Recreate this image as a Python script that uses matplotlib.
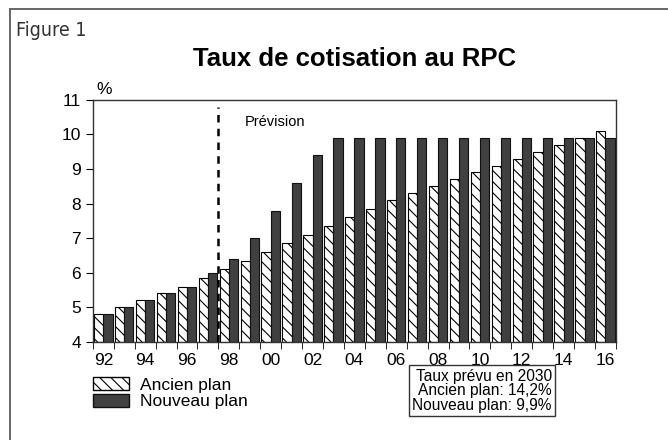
import matplotlib.pyplot as plt
import matplotlib.patches as mpatches
import matplotlib.lines as mlines
import numpy as np

plt.rcParams['font.family'] = ['Liberation Sans', 'DejaVu Sans']
plt.rcParams['hatch.linewidth'] = 0.8

# Années 1992 à 2016
annees = list(range(1992, 2017))
etiquettes = ["92", "94", "96", "98", "00", "02", "04", "06", "08", "10", "12", "14", "16"]

ancien = [4.8, 5.0, 5.2, 5.4, 5.6, 5.85, 6.1, 6.35, 6.6, 6.85, 7.1, 7.35, 7.6,
          7.85, 8.1, 8.3, 8.5, 8.7, 8.9, 9.1, 9.3, 9.5, 9.7, 9.9, 10.1]
nouveau = [4.8, 5.0, 5.2, 5.4, 5.6, 6.0, 6.4, 7.0, 7.8, 8.6, 9.4, 9.9, 9.9,
           9.9, 9.9, 9.9, 9.9, 9.9, 9.9, 9.9, 9.9, 9.9, 9.9, 9.9, 9.9]

fig = plt.figure(figsize=(6.68, 4.40), dpi=100)
ax = fig.add_axes([0.139, 0.223, 0.783, 0.550])

x = np.arange(len(annees))
w = 0.44
ax.bar(x - w / 2, np.array(ancien) - 4, w, bottom=4, color="white",
       edgecolor="black", hatch="\\\\\\", linewidth=0.8)
ax.bar(x + w / 2, np.array(nouveau) - 4, w, bottom=4, color="#404040",
       edgecolor="#111111", linewidth=0.8)

ax.set_xlim(-0.5, len(annees) - 0.5)
ax.set_ylim(4, 11)
ax.set_yticks(range(4, 12))
ax.set_xticks(x[::2])
ax.set_xticklabels(etiquettes)
ax.set_xticks(np.arange(len(annees) + 1) - 0.5, minor=True)
ax.tick_params(axis="x", which="major", length=0, labelsize=12.5, pad=8)
ax.tick_params(axis="x", which="minor", length=5, direction="out")
ax.tick_params(axis="y", length=5, direction="out", labelsize=12.5)
for s in ax.spines.values():
    s.set_linewidth(1.0)
    s.set_color("#333333")

# ligne de prévision
ax.plot([5.5, 5.5], [4, 10.8], "k--", linewidth=1.8, dashes=(3, 2.5))
ax.text(6.75, 10.25, "Prévision", fontsize=10.5)

fig.text(0.145, 0.787, "%", fontsize=12.5)
fig.text(0.531, 0.85, "Taux de cotisation au RPC", fontsize=18.5,
         fontweight="bold", ha="center", va="baseline")
fig.text(0.024, 0.918, "Figure 1", fontsize=14, fontstretch="condensed",
         family=["DejaVu Sans"], color="#333333")

# cadre extérieur
fig.add_artist(mlines.Line2D([0.015, 0.015], [0, 0.98], color="#666666", linewidth=1.4))
fig.add_artist(mlines.Line2D([0.015, 1.0], [0.98, 0.98], color="#666666", linewidth=1.4))

# légende
h1 = mpatches.Patch(facecolor="white", edgecolor="black", hatch="\\\\\\", label="Ancien plan")
h2 = mpatches.Patch(facecolor="#404040", edgecolor="#111111", label="Nouveau plan")
fig.legend(handles=[h1, h2], loc="upper left", bbox_to_anchor=(0.139, 0.143),
           frameon=False, fontsize=12.5, handlelength=2.1, handleheight=0.8,
           handletextpad=0.6, labelspacing=0.05, borderaxespad=0, borderpad=0)

fig.text(0.826, 0.062, "Taux prévu en 2030\nAncien plan: 14,2%\nNouveau plan: 9,9%",
         fontsize=11.2, ha="right", va="bottom", linespacing=0.95,
         bbox=dict(facecolor="white", edgecolor="#333333", linewidth=1.0, pad=2.5))

fig.savefig("out.png", dpi=100)
